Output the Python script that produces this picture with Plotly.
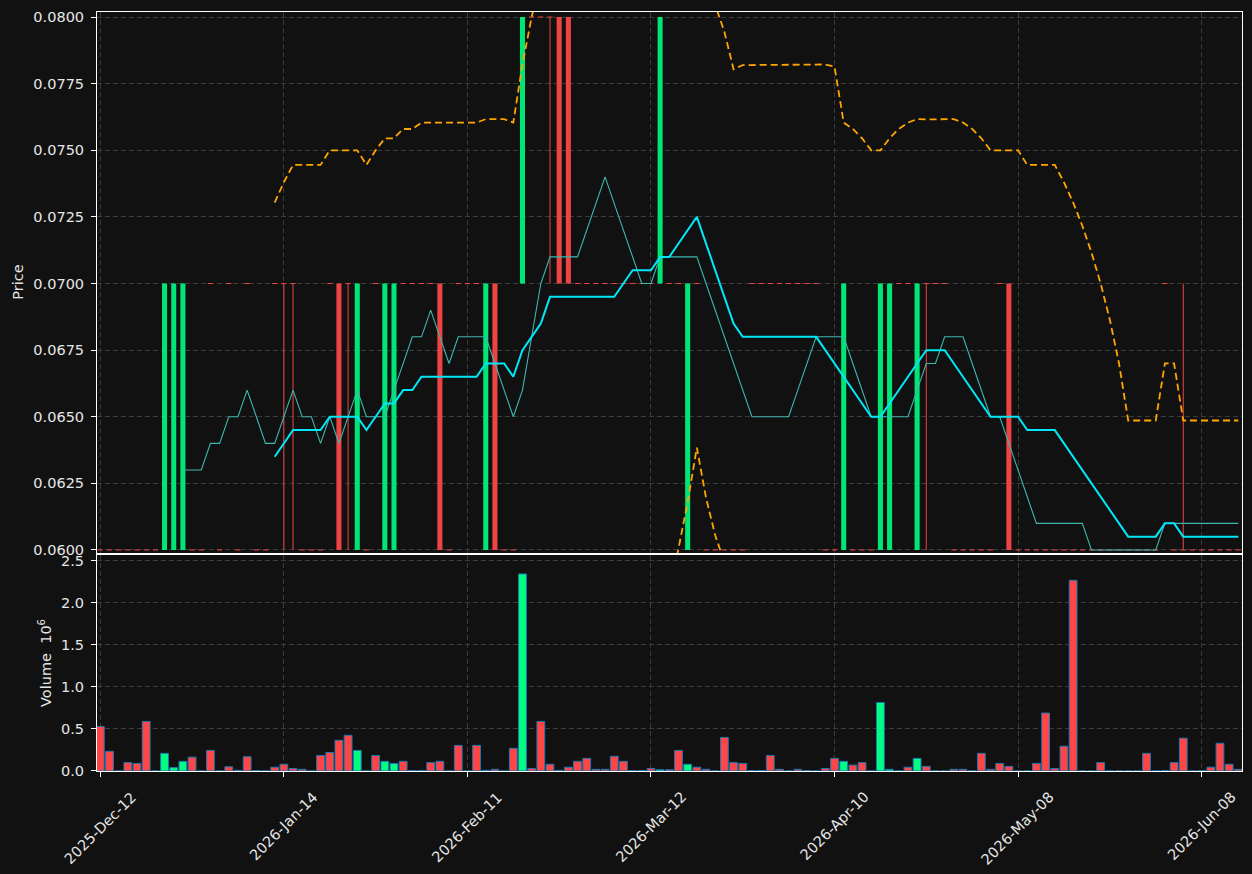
import plotly.graph_objects as go

# ---------------- data ----------------
tick_pos = [0, 20, 40, 60, 80, 100, 120]
tick_labels = ["2025-Dec-12", "2026-Jan-14", "2026-Feb-11", "2026-Mar-12",
               "2026-Apr-10", "2026-May-08", "2026-Jun-08"]

open_ = [
    0.06, 0.06, 0.06, 0.06, 0.06, 0.06, 0.06, 0.06, 0.06, 0.06,
    0.06, 0.06, 0.07, 0.06, 0.07, 0.06, 0.07, 0.06, 0.06, 0.07,
    0.07, 0.07, 0.06, 0.06, 0.06, 0.07, 0.07, 0.07, 0.06, 0.06,
    0.07, 0.06, 0.06, 0.07, 0.07, 0.07, 0.07, 0.07, 0.06, 0.07,
    0.07, 0.07, 0.06, 0.07, 0.06, 0.06, 0.07, 0.08, 0.08, 0.08,
    0.08, 0.08, 0.07, 0.07, 0.07, 0.07, 0.07, 0.07, 0.07, 0.07,
    0.07, 0.07, 0.07, 0.07, 0.06, 0.07, 0.06, 0.06, 0.06, 0.06,
    0.06, 0.07, 0.07, 0.07, 0.07, 0.07, 0.07, 0.07, 0.07, 0.06,
    0.06, 0.06, 0.06, 0.06, 0.06, 0.06, 0.06, 0.07, 0.07, 0.06,
    0.07, 0.07, 0.07, 0.06, 0.06, 0.06, 0.06, 0.06, 0.07, 0.07,
    0.06, 0.06, 0.06, 0.06, 0.06, 0.06, 0.06, 0.06, 0.06, 0.06,
    0.06, 0.06, 0.06, 0.06, 0.06, 0.06, 0.07, 0.06, 0.06, 0.06,
    0.06, 0.06, 0.06, 0.06, 0.06,
]
high = [
    0.06, 0.06, 0.06, 0.06, 0.06, 0.06, 0.06, 0.07, 0.07, 0.07,
    0.06, 0.06, 0.07, 0.06, 0.07, 0.06, 0.07, 0.06, 0.06, 0.07,
    0.07, 0.07, 0.06, 0.06, 0.06, 0.07, 0.07, 0.07, 0.07, 0.06,
    0.07, 0.07, 0.07, 0.07, 0.07, 0.07, 0.07, 0.07, 0.06, 0.07,
    0.07, 0.07, 0.07, 0.07, 0.06, 0.06, 0.08, 0.08, 0.08, 0.08,
    0.08, 0.08, 0.07, 0.07, 0.07, 0.07, 0.07, 0.07, 0.07, 0.07,
    0.07, 0.08, 0.07, 0.07, 0.07, 0.07, 0.06, 0.06, 0.06, 0.06,
    0.06, 0.07, 0.07, 0.07, 0.07, 0.07, 0.07, 0.07, 0.07, 0.06,
    0.06, 0.07, 0.06, 0.06, 0.06, 0.07, 0.07, 0.07, 0.07, 0.07,
    0.07, 0.07, 0.07, 0.06, 0.06, 0.06, 0.06, 0.06, 0.07, 0.07,
    0.06, 0.06, 0.06, 0.06, 0.06, 0.06, 0.06, 0.06, 0.06, 0.06,
    0.06, 0.06, 0.06, 0.06, 0.06, 0.06, 0.07, 0.06, 0.07, 0.06,
    0.06, 0.06, 0.06, 0.06, 0.06,
]
low = [
    0.06, 0.06, 0.06, 0.06, 0.06, 0.06, 0.06, 0.06, 0.06, 0.06,
    0.06, 0.06, 0.07, 0.06, 0.07, 0.06, 0.07, 0.06, 0.06, 0.07,
    0.06, 0.06, 0.06, 0.06, 0.06, 0.07, 0.06, 0.06, 0.06, 0.06,
    0.07, 0.06, 0.06, 0.07, 0.07, 0.07, 0.07, 0.06, 0.06, 0.07,
    0.07, 0.07, 0.06, 0.06, 0.06, 0.06, 0.07, 0.08, 0.08, 0.07,
    0.07, 0.07, 0.07, 0.07, 0.07, 0.07, 0.07, 0.07, 0.07, 0.07,
    0.07, 0.07, 0.07, 0.07, 0.06, 0.07, 0.06, 0.06, 0.06, 0.06,
    0.06, 0.07, 0.07, 0.07, 0.07, 0.07, 0.07, 0.07, 0.07, 0.06,
    0.06, 0.06, 0.06, 0.06, 0.06, 0.06, 0.06, 0.07, 0.07, 0.06,
    0.06, 0.07, 0.07, 0.06, 0.06, 0.06, 0.06, 0.06, 0.07, 0.06,
    0.06, 0.06, 0.06, 0.06, 0.06, 0.06, 0.06, 0.06, 0.06, 0.06,
    0.06, 0.06, 0.06, 0.06, 0.06, 0.06, 0.07, 0.06, 0.06, 0.06,
    0.06, 0.06, 0.06, 0.06, 0.06,
]
close = [
    0.06, 0.06, 0.06, 0.06, 0.06, 0.06, 0.06, 0.07, 0.07, 0.07,
    0.06, 0.06, 0.07, 0.06, 0.07, 0.06, 0.07, 0.06, 0.06, 0.07,
    0.07, 0.07, 0.06, 0.06, 0.06, 0.07, 0.06, 0.07, 0.07, 0.06,
    0.07, 0.07, 0.07, 0.07, 0.07, 0.07, 0.07, 0.06, 0.06, 0.07,
    0.07, 0.07, 0.07, 0.06, 0.06, 0.06, 0.08, 0.08, 0.08, 0.08,
    0.07, 0.07, 0.07, 0.07, 0.07, 0.07, 0.07, 0.07, 0.07, 0.07,
    0.07, 0.08, 0.07, 0.07, 0.07, 0.07, 0.06, 0.06, 0.06, 0.06,
    0.06, 0.07, 0.07, 0.07, 0.07, 0.07, 0.07, 0.07, 0.07, 0.06,
    0.06, 0.07, 0.06, 0.06, 0.06, 0.07, 0.07, 0.07, 0.07, 0.07,
    0.07, 0.07, 0.07, 0.06, 0.06, 0.06, 0.06, 0.06, 0.07, 0.06,
    0.06, 0.06, 0.06, 0.06, 0.06, 0.06, 0.06, 0.06, 0.06, 0.06,
    0.06, 0.06, 0.06, 0.06, 0.06, 0.06, 0.07, 0.06, 0.06, 0.06,
    0.06, 0.06, 0.06, 0.06, 0.06,
]
# volume in millions of shares
volume_m = [
    0.53, 0.235, 0, 0.10, 0.09, 0.59, 0, 0.21, 0.04, 0.115,
    0.165, 0, 0.245, 0, 0.05, 0.008, 0.17, 0.006, 0, 0.045,
    0.08, 0.03, 0.02, 0, 0.185, 0.22, 0.365, 0.425, 0.245, 0,
    0.185, 0.115, 0.09, 0.115, 0.006, 0.006, 0.10, 0.115, 0, 0.305,
    0, 0.305, 0.008, 0.02, 0, 0.27, 2.345, 0.03, 0.59, 0.08,
    0.008, 0.045, 0.115, 0.15, 0.02, 0.02, 0.175, 0.115, 0.006, 0.006,
    0.03, 0.015, 0.015, 0.245, 0.08, 0.045, 0.02, 0, 0.40, 0.10,
    0.09, 0.006, 0.006, 0.185, 0.02, 0, 0.02, 0.006, 0, 0.03,
    0.15, 0.115, 0.07, 0.10, 0, 0.815, 0.02, 0, 0.045, 0.15,
    0.055, 0, 0, 0.02, 0.02, 0, 0.21, 0.02, 0.09, 0.055,
    0, 0, 0.09, 0.69, 0.03, 0.295, 2.27, 0, 0, 0.10,
    0, 0, 0, 0, 0.21, 0, 0.006, 0.10, 0.39, 0,
    0.006, 0.045, 0.33, 0.08, 0.02,
]
ma10 = [
    None, None, None, None, None, None, None, None, None, 0.063,
    0.063, 0.063, 0.064, 0.064, 0.065, 0.065, 0.066, 0.065, 0.064, 0.064,
    0.065, 0.066, 0.065, 0.065, 0.064, 0.065, 0.064, 0.065, 0.066, 0.065,
    0.065, 0.065, 0.066, 0.067, 0.068, 0.068, 0.069, 0.068, 0.067, 0.068,
    0.068, 0.068, 0.068, 0.067, 0.066, 0.065, 0.066, 0.068, 0.070, 0.071,
    0.071, 0.071, 0.071, 0.072, 0.073, 0.074, 0.073, 0.072, 0.071, 0.070,
    0.070, 0.071, 0.071, 0.071, 0.071, 0.071, 0.070, 0.069, 0.068, 0.067,
    0.066, 0.065, 0.065, 0.065, 0.065, 0.065, 0.066, 0.067, 0.068, 0.068,
    0.068, 0.068, 0.067, 0.066, 0.065, 0.065, 0.065, 0.065, 0.065, 0.066,
    0.067, 0.067, 0.068, 0.068, 0.068, 0.067, 0.066, 0.065, 0.065, 0.064,
    0.063, 0.062, 0.061, 0.061, 0.061, 0.061, 0.061, 0.061, 0.060, 0.060,
    0.060, 0.060, 0.060, 0.060, 0.060, 0.060, 0.061, 0.061, 0.061, 0.061,
    0.061, 0.061, 0.061, 0.061, 0.061,
]
ma20 = [
    None, None, None, None, None, None, None, None, None, None,
    None, None, None, None, None, None, None, None, None, 0.0635,
    0.0640, 0.0645, 0.0645, 0.0645, 0.0645, 0.0650, 0.0650, 0.0650, 0.0650, 0.0645,
    0.0650, 0.0655, 0.0655, 0.0660, 0.0660, 0.0665, 0.0665, 0.0665, 0.0665, 0.0665,
    0.0665, 0.0665, 0.0670, 0.0670, 0.0670, 0.0665, 0.0675, 0.0680, 0.0685, 0.0695,
    0.0695, 0.0695, 0.0695, 0.0695, 0.0695, 0.0695, 0.0695, 0.0700, 0.0705, 0.0705,
    0.0705, 0.0710, 0.0710, 0.0715, 0.0720, 0.0725, 0.0715, 0.0705, 0.0695, 0.0685,
    0.0680, 0.0680, 0.0680, 0.0680, 0.0680, 0.0680, 0.0680, 0.0680, 0.0680, 0.0675,
    0.0670, 0.0665, 0.0660, 0.0655, 0.0650, 0.0650, 0.0655, 0.0660, 0.0665, 0.0670,
    0.0675, 0.0675, 0.0675, 0.0670, 0.0665, 0.0660, 0.0655, 0.0650, 0.0650, 0.0650,
    0.0650, 0.0645, 0.0645, 0.0645, 0.0645, 0.0640, 0.0635, 0.0630, 0.0625, 0.0620,
    0.0615, 0.0610, 0.0605, 0.0605, 0.0605, 0.0605, 0.0610, 0.0610, 0.0605, 0.0605,
    0.0605, 0.0605, 0.0605, 0.0605, 0.0605,
]
band_upper = [
    None, None, None, None, None, None, None, None, None, None,
    None, None, None, None, None, None, None, None, None, 0.07304,
    0.07380, 0.07445, 0.07445, 0.07445, 0.07445, 0.07500, 0.07500, 0.07500, 0.07500, 0.07445,
    0.07500, 0.07545, 0.07545, 0.07580, 0.07580, 0.07604, 0.07604, 0.07604, 0.07604, 0.07604,
    0.07604, 0.07604, 0.07617, 0.07617, 0.07617, 0.07604, 0.07822, 0.08000, 0.08158, 0.08288,
    0.08288, 0.08288, 0.08288, 0.08288, 0.08288, 0.08288, 0.08288, 0.08265, 0.08229, 0.08229,
    0.08229, 0.08349, 0.08349, 0.08295, 0.08220, 0.08116, 0.08104, 0.08045, 0.07945, 0.07804,
    0.07820, 0.07820, 0.07820, 0.07820, 0.07820, 0.07820, 0.07820, 0.07820, 0.07820, 0.07822,
    0.07814, 0.07604, 0.07580, 0.07545, 0.07500, 0.07500, 0.07545, 0.07580, 0.07604, 0.07617,
    0.07616, 0.07616, 0.07616, 0.07617, 0.07604, 0.07580, 0.07545, 0.07500, 0.07500, 0.07500,
    0.07500, 0.07445, 0.07445, 0.07445, 0.07445, 0.07380, 0.07304, 0.07217, 0.07116, 0.07000,
    0.06864, 0.06700, 0.06486, 0.06486, 0.06486, 0.06486, 0.06700, 0.06700, 0.06486, 0.06486,
    0.06486, 0.06486, 0.06486, 0.06486, 0.06486,
]
band_lower = [
    None, None, None, None, None, None, None, None, None, None,
    None, None, None, None, None, None, None, None, None, 0.05396,
    0.05420, 0.05455, 0.05455, 0.05455, 0.05455, 0.05500, 0.05500, 0.05500, 0.05500, 0.05455,
    0.05500, 0.05555, 0.05555, 0.05620, 0.05620, 0.05696, 0.05696, 0.05696, 0.05696, 0.05696,
    0.05696, 0.05696, 0.05783, 0.05783, 0.05783, 0.05696, 0.05678, 0.05600, 0.05542, 0.05612,
    0.05612, 0.05612, 0.05612, 0.05612, 0.05612, 0.05612, 0.05612, 0.05735, 0.05871, 0.05871,
    0.05871, 0.05851, 0.05851, 0.06005, 0.06180, 0.06384, 0.06196, 0.06055, 0.05955, 0.05896,
    0.05780, 0.05780, 0.05780, 0.05780, 0.05780, 0.05780, 0.05780, 0.05780, 0.05780, 0.05678,
    0.05586, 0.05696, 0.05620, 0.05555, 0.05500, 0.05500, 0.05555, 0.05620, 0.05696, 0.05783,
    0.05884, 0.05884, 0.05884, 0.05783, 0.05696, 0.05620, 0.05555, 0.05500, 0.05500, 0.05500,
    0.05500, 0.05455, 0.05455, 0.05455, 0.05455, 0.05420, 0.05396, 0.05384, 0.05384, 0.05400,
    0.05436, 0.05500, 0.05614, 0.05614, 0.05614, 0.05614, 0.05500, 0.05500, 0.05614, 0.05614,
    0.05614, 0.05614, 0.05614, 0.05614, 0.05614,
]
price_ticks = [0.0600, 0.0625, 0.0650, 0.0675, 0.0700, 0.0725, 0.0750, 0.0775, 0.0800]
volume_ticks = [0.0, 0.5, 1.0, 1.5, 2.0, 2.5]

# ---------------- styling ----------------
BG = "#111111"
UP = "#00e676"
DOWN = "#ef4444"
VOL_UP = "#00ff80"
VOL_DOWN = "#ff4545"
VOL_EDGE = "#1f77b4"
GRID = "#3a3a3a"
TXT = "#e6e6e6"
FONT = "DejaVu Sans"
FS = 14.5

n = len(close)
xs = list(range(n))
is_up = [c > o for o, c in zip(open_, close)]

fig = go.Figure()

# wicks
for flag, col in ((True, UP), (False, DOWN)):
    wx, wy = [], []
    for i in xs:
        if is_up[i] == flag and high[i] > low[i]:
            wx += [i, i, None]
            wy += [low[i], high[i], None]
    fig.add_trace(go.Scatter(x=wx, y=wy, mode="lines", line=dict(color=col, width=1),
                             hoverinfo="skip", xaxis="x", yaxis="y"))

# doji (open == close) drawn as flat ticks
dx, dy = [], []
for i in xs:
    if open_[i] == close[i]:
        dx += [i - 0.28, i + 0.28, None]
        dy += [close[i], close[i], None]
fig.add_trace(go.Scatter(x=dx, y=dy, mode="lines", line=dict(color=DOWN, width=1),
                         hoverinfo="skip", xaxis="x", yaxis="y"))

# candle bodies
bx = [i for i in xs if open_[i] != close[i]]
fig.add_trace(go.Bar(
    x=bx,
    y=[abs(close[i] - open_[i]) for i in bx],
    base=[min(open_[i], close[i]) for i in bx],
    width=0.55,
    marker=dict(color=[UP if is_up[i] else DOWN for i in bx], line=dict(width=0)),
    xaxis="x", yaxis="y",
))

# bands and moving averages
fig.add_trace(go.Scatter(x=xs, y=band_upper, mode="lines",
                         line=dict(color="#ffa500", width=1.8, dash="7px,4px"),
                         xaxis="x", yaxis="y"))
fig.add_trace(go.Scatter(x=xs, y=band_lower, mode="lines",
                         line=dict(color="#ffa500", width=1.8, dash="7px,4px"),
                         xaxis="x", yaxis="y"))
fig.add_trace(go.Scatter(x=xs, y=ma10, mode="lines",
                         line=dict(color="#3cb8b0", width=1.1), xaxis="x", yaxis="y"))
fig.add_trace(go.Scatter(x=xs, y=ma20, mode="lines",
                         line=dict(color="#00e8f8", width=2), xaxis="x", yaxis="y"))

# volume
fig.add_trace(go.Bar(
    x=xs, y=volume_m, width=0.85,
    marker=dict(color=[VOL_UP if u else VOL_DOWN for u in is_up],
                line=dict(color=VOL_EDGE, width=1)),
    xaxis="x2", yaxis="y2",
))

xr = [-0.36, 124.4]
common_axis = dict(showgrid=True, gridcolor=GRID, gridwidth=1, griddash="5px,3px",
                   showline=True, linecolor="white", linewidth=1, mirror=True,
                   zeroline=False, tickfont=dict(family=FONT, size=FS, color=TXT))

fig.update_layout(
    width=1252, height=874,
    paper_bgcolor=BG, plot_bgcolor=BG,
    margin=dict(l=97, r=10, t=12, b=103),
    showlegend=False, barmode="overlay",
    font=dict(family=FONT, size=FS, color=TXT),
    xaxis=dict(domain=[0, 1], anchor="y", range=xr, tickvals=tick_pos,
               showticklabels=False, ticks="", **common_axis),
    yaxis=dict(domain=[0.2866, 1], anchor="x", range=[0.059869, 0.08019],
               tickvals=price_ticks, ticktext=["%.4f" % v for v in price_ticks],
               ticks="outside", ticklen=5, tickcolor="white", ticklabelstandoff=4,
               **common_axis),
    xaxis2=dict(domain=[0, 1], anchor="y2", range=xr, tickvals=tick_pos,
                showticklabels=False, ticks="outside", ticklen=5, tickcolor="white",
                **common_axis),
    yaxis2=dict(domain=[0, 0.2846], anchor="x2", range=[0, 2.571],
                tickvals=volume_ticks, ticktext=["%.1f" % v for v in volume_ticks],
                ticks="outside", ticklen=5, tickcolor="white", ticklabelstandoff=4,
                **common_axis),
)

annotations = []
for p, lab in zip(tick_pos, tick_labels):
    annotations.append(dict(x=p, xref="x2", y=0, yref="y2 domain", text=lab,
                            textangle=-45, xanchor="center", yanchor="top",
                            yshift=-15, showarrow=False,
                            font=dict(family=FONT, size=FS, color=TXT)))
annotations.append(dict(x=0, xref="paper", xshift=-79, y=0.5, yref="y domain",
                        text="Price", textangle=-90, xanchor="center", yanchor="middle",
                        showarrow=False, font=dict(family=FONT, size=FS, color=TXT)))
annotations.append(dict(x=0, xref="paper", xshift=-52, y=0.5, yref="y2 domain",
                        text="Volume  10<sup>6</sup>", textangle=-90, xanchor="center",
                        yanchor="middle", showarrow=False,
                        font=dict(family=FONT, size=FS, color=TXT)))
fig.update_layout(annotations=annotations)

fig.write_html("out.html", config={"displayModeBar": False})
